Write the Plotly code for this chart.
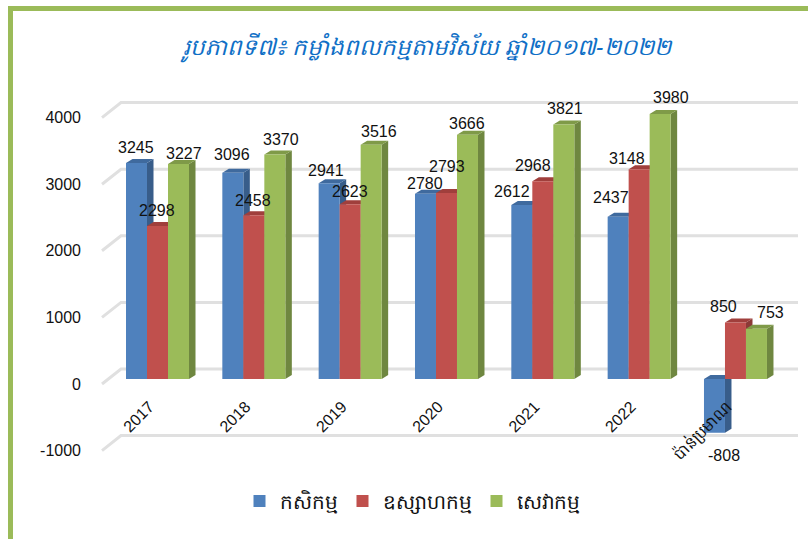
import plotly.graph_objects as go

categories = ["2017", "2018", "2019", "2020", "2021", "2022", "ប៉ាន់ប្រមាណ"]
agriculture = [3245, 3096, 2941, 2780, 2612, 2437, -808]
industry = [2298, 2458, 2623, 2793, 2968, 3148, 850]
services = [3227, 3370, 3516, 3666, 3821, 3980, 753]
series_names = ["កសិកម្ម", "ឧស្សាហកម្ម", "សេវាកម្ម"]
y_ticks = [-1000, 0, 1000, 2000, 3000, 4000]
y_tick_text = ["-1000", "0", "1000", "2000", "3000", "4000"]
title_text = "រូបភាពទី៧៖ កម្លាំងពលកម្មតាមវិស័យ ឆ្នាំ២០១៧-២០២២"

# label nudges in pixels, per series (dx, dy up)
agri_nudge = [(-1, 15), (-1, 18), (-3, 13), (0, 10), (-10, 14), (-7, 19), (10, -23)]
ind_nudge = [(-1, 15), (-1, 15), (0, 13), (1, 26), (-10, 16), (-12, 11), (-12, 16)]
serv_nudge = [(5, 11), (6, 15), (8, 13), (0, 11), (1, 16), (11, 16), (14, 16)]

W, H = 808, 539
L, R, T, B = 100, 8, 100, 59
PX_PER_UNIT = 0.0666
ZERO_PX = 379
GROUP_PX = 96.33
CENTER0_PX = 157.5
COLORS = ["#4F81BD", "#C0504D", "#9BBB59"]
SIDE = ["#385D8A", "#8C3A37", "#6F8740"]
TOPC = ["#3F6A9E", "#A03F3C", "#7F9A48"]

x_idx = list(range(len(categories)))
x_range = [(L - CENTER0_PX) / GROUP_PX, (W - R - CENTER0_PX) / GROUP_PX]
y_range = [-(H - B - ZERO_PX) / PX_PER_UNIT, (ZERO_PX - T) / PX_PER_UNIT]
bar_w = 21 / GROUP_PX
dx = 6.5 / GROUP_PX
dy = 4 / PX_PER_UNIT
wall_dx = 19 / GROUP_PX
wall_dy = 10 / PX_PER_UNIT

shapes = []
# grid: slanted floor stub then back wall line
for v in y_ticks:
    x0 = x_range[0] + 2 / GROUP_PX
    y0 = v - 5 / PX_PER_UNIT
    shapes.append(dict(type="path", xref="x", yref="y", layer="below",
                       path=f"M {x0},{y0} L {x0 + wall_dx},{v + wall_dy} L {x_range[1] - 2 / GROUP_PX},{v + wall_dy}",
                       line=dict(color="#E0E0E0", width=3), fillcolor="rgba(0,0,0,0)"))

all_series = [agriculture, industry, services]
for s, vals in enumerate(all_series):
    for i, v in enumerate(vals):
        left = i + (s - 1.5) * bar_w
        right = left + bar_w
        top, bottom = max(v, 0), min(v, 0)
        shapes.append(dict(type="path", xref="x", yref="y", layer="below",
                           path=f"M {right},{bottom} L {right + dx},{bottom + dy} L {right + dx},{top + dy} L {right},{top} Z",
                           fillcolor=SIDE[s], line=dict(width=0)))
        shapes.append(dict(type="path", xref="x", yref="y", layer="below",
                           path=f"M {left},{top} L {left + dx},{top + dy} L {right + dx},{top + dy} L {right},{top} Z",
                           fillcolor=TOPC[s], line=dict(width=0)))

# frame
def fx(p): return (p - L) / (W - L - R)
def fy(p): return 1 - (p - T) / (H - T - B)
shapes.append(dict(type="rect", xref="paper", yref="paper", x0=fx(10.5), x1=fx(W + 30), y0=fy(H + 30), y1=fy(8.5),
                   line=dict(color="#9BBB59", width=5), fillcolor="rgba(0,0,0,0)", layer="below"))

fig = go.Figure()
for s, vals in enumerate(all_series):
    fig.add_bar(x=x_idx, y=vals, name=series_names[s], marker=dict(color=COLORS[s], line=dict(width=0)), hoverinfo="x+y")

annotations = []
for s, (vals, nudges) in enumerate(zip(all_series, [agri_nudge, ind_nudge, serv_nudge])):
    for i, (v, (nx, ny)) in enumerate(zip(vals, nudges)):
        annotations.append(dict(x=i + (s - 1) * bar_w, y=v, text=str(v), showarrow=False,
                                xshift=nx, yshift=ny, xanchor="center", yanchor="middle",
                                font=dict(size=16, color="#111111")))

fig.update_layout(
    width=W, height=H, margin=dict(l=L, r=R, t=T, b=B, pad=0),
    paper_bgcolor="white", plot_bgcolor="rgba(0,0,0,0)",
    font=dict(family="Liberation Sans, Arial, sans-serif", color="#111111"),
    barmode="group", bargap=1 - 3 * bar_w, bargroupgap=0,
    title=dict(text=title_text, x=427 / W, xanchor="center", y=1 - 47 / H, yanchor="middle",
               font=dict(size=23, color="#0F6FC6", family="Noto Sans, DejaVu Sans, sans-serif", style="italic")),
    xaxis=dict(range=x_range, tickmode="array", tickvals=x_idx, ticktext=categories, tickangle=-45,
               showgrid=False, zeroline=False, showline=False, ticks="", anchor="free", position=0.228,
               ticklabelshift=-8, tickfont=dict(size=16)),
    yaxis=dict(range=y_range, tickmode="array", tickvals=y_ticks, ticktext=y_tick_text, showgrid=False,
               zeroline=False, showline=False, ticks="", ticklabelstandoff=18, tickfont=dict(size=16), ticklabelshift=5),
    legend=dict(orientation="h", x=0.5 + (412 - 450) / (W - L - R), xanchor="center", y=fy(501), yanchor="middle",
                font=dict(size=20), bgcolor="rgba(0,0,0,0)", traceorder="normal"),
    shapes=shapes, annotations=annotations, showlegend=True,
)
fig.write_html("out.html", config=dict(displayModeBar=False),
               post_script="document.body.style.margin='0';document.documentElement.style.overflow='hidden';")
